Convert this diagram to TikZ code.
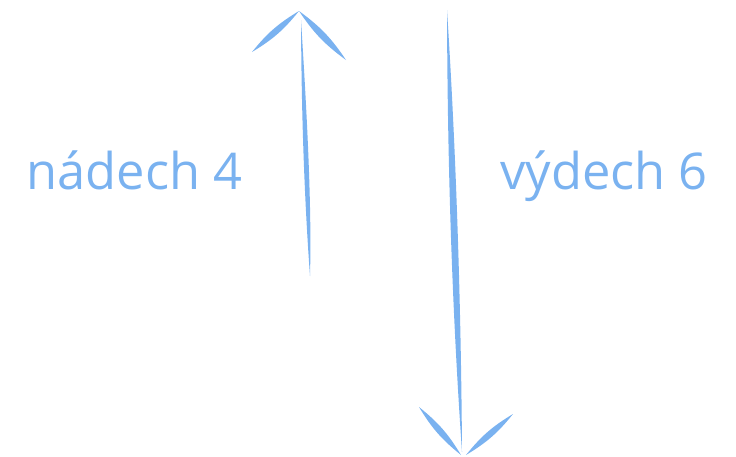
\documentclass[tikz,border=0pt]{standalone}
\usepackage{fontspec}
\setmainfont{Open Sans}
\definecolor{arrowblue}{RGB}{122,178,240}
\begin{document}
\begin{tikzpicture}[x=1pt,y=-1pt,
  lbl/.style={text=arrowblue,font=\fontsize{50.6}{60}\selectfont,anchor=base,inner sep=0pt},
  ink/.style={fill=arrowblue,draw=none}]
\useasboundingbox (0,0) rectangle (736,456);
% up arrow
\coordinate (uptip) at (299,11);
\coordinate (upbot) at (310,276);
\coordinate (uptop) at (301,20);
\coordinate (upl) at (252,52);
\coordinate (upr) at (346,60);
\fill[ink] (uptop) .. controls (301.5,120) and (304.5,200) .. (upbot) .. controls (312,200) and (306,100) .. (uptop) -- cycle;
\fill[ink] (uptip) to[bend left=10] (upl) to[bend left=10] (uptip);
\fill[ink] (uptip) to[bend right=10] (upr) to[bend right=10] (uptip);
% down arrow
\coordinate (dntop) at (447,10);
\coordinate (dnbot) at (462,452);
\coordinate (dnl) at (419,407);
\coordinate (dnltip) at (461,455);
\coordinate (dnr) at (513,414);
\coordinate (dnrtip) at (466,455);
\fill[ink] (dntop) .. controls (447.5,160) and (451.5,300) .. (dnbot) .. controls (461,300) and (456,150) .. (dntop) -- cycle;
\fill[ink] (dnl) to[bend left=10] (dnltip) to[bend left=10] (dnl);
\fill[ink] (dnr) to[bend right=10] (dnrtip) to[bend right=10] (dnr);
% labels
\node[lbl] (nadech) at (134.5,189) {nádech 4};
\node[lbl] (vydech) at (604,189) {výdech 6};
\end{tikzpicture}
\end{document}
